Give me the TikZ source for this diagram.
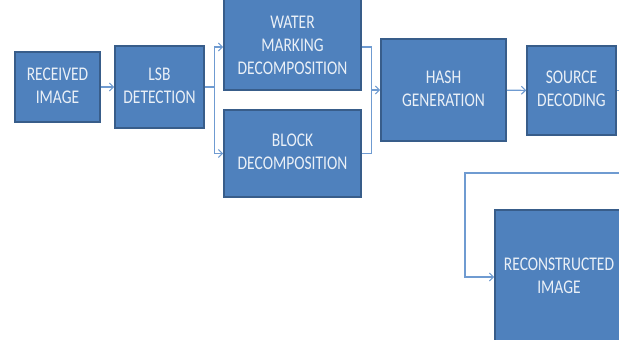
\documentclass[tikz,border=0pt]{standalone}
\usepackage{fontspec}
\setmainfont{Carlito}
\usepackage{xcolor}
\usepackage{graphicx}
\usepackage{tikz}
\usetikzlibrary{arrows.meta,positioning,calc}

\definecolor{boxfill}{HTML}{4F81BD}
\definecolor{boxline}{HTML}{385D8A}
\definecolor{linkblue}{HTML}{6F9BD1}

% caption text is drawn a little taller than wide
\newcommand{\tallcaps}[1]{\scalebox{1}[1.25]{\begin{tabular}{@{}c@{}}#1\end{tabular}}}

\begin{document}
\begin{tikzpicture}[
    x=1pt, y=1pt,
    box/.style={draw=boxline, line width=1.6pt, fill=boxfill, text=white!88!boxfill,
                align=center, inner sep=2pt,
                font=\fontsize{15.5}{18.4}\selectfont},
    arrow/.style={-{Straight Barb[length=4pt,width=8pt]}, linkblue, line width=1.1pt},
    link/.style={linkblue, line width=1.1pt},
]
\clip (0,0) rectangle (619,340);
\useasboundingbox (0,0) rectangle (619,340);

% ---------- Blocks ----------
\node[box, minimum width=85pt, minimum height=70pt] (recv) at (57.5,253) {\tallcaps{RECEIVED\\IMAGE}};
\node[box, minimum width=89pt, minimum height=82pt] (lsb) at (159.5,253) {\tallcaps{LSB\\DETECTION}};
\node[box, minimum width=137pt, minimum height=94pt] (wm) at (292.5,297) {\raisebox{-4pt}[\height][\depth]{\tallcaps{WATER\\MARKING\\DECOMPOSITION}}};
\node[box, minimum width=137pt, minimum height=87pt] (block) at (292.5,186.5) {\tallcaps{BLOCK\\DECOMPOSITION}};
\node[box, minimum width=125pt, minimum height=102pt] (hash) at (443.5,250) {\tallcaps{HASH\\GENERATION}};
\node[box, minimum width=89pt, minimum height=89pt] (source) at (571.5,249.5) {\tallcaps{SOURCE\\DECODING}};
\node[box, minimum width=128pt, minimum height=134pt] (recon) at (559,63) {\tallcaps{RECONSTRUCTED\\IMAGE}};

% ---------- Arrows ----------
\draw[arrow] (recv) -- (lsb);

% LSB splits to both decompositions
\draw[link] (lsb.east) -- ++(10,0) coordinate (split);
\draw[arrow] (split) |- ([yshift=-4pt]wm.west);
\draw[arrow] (split) |- (block.west);

% both decompositions join into hash
\draw[link] ([yshift=-4pt]wm.east) -- ++(10,0) coordinate (join) -- (join |- block.east) -- (block.east);
\draw[arrow] (join |- hash.west) -- (hash.west);

\draw[arrow] (hash) -- (source);

% feedback to reconstructed image (runs past the frame)
\coordinate (outer) at (640,249.5);
\coordinate (turn) at (465,167);
\draw[arrow] (source.east) -- (outer) |- (turn) |- (recon.west);

\end{tikzpicture}
\end{document}
